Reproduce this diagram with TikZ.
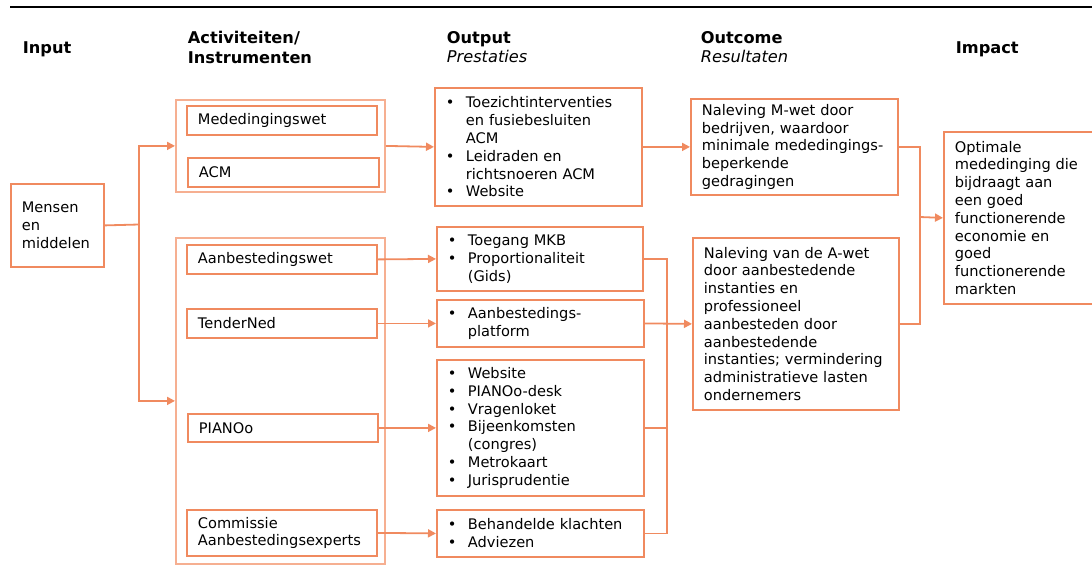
\documentclass[tikz,border=0pt]{standalone}
\usepackage{fontspec}
\setmainfont{DejaVu Sans}
\usetikzlibrary{arrows.meta}

\definecolor{oranje}{RGB}{240,138,95}
\definecolor{licht}{RGB}{246,175,145}
\newcommand{\bodyfont}{\fontsize{14.6}{17.8}\selectfont}
\newcommand{\kopfont}{\fontsize{16.2}{19}\selectfont}
\newcommand{\itemdot}{\makebox[20pt][l]{•}}
\newcommand{\itemgap}{\hspace*{20pt}}

\begin{document}
\begin{tikzpicture}[x=1pt, y=-1pt, line width=1.8pt,
	box/.style={draw=oranje, anchor=north west, align=left, inner xsep=11pt, inner ysep=0pt, font=\bodyfont},
	groep/.style={box, draw=licht},
	kop/.style={anchor=base west, inner sep=0pt, font=\kopfont\bfseries},
	subkop/.style={anchor=base west, inner sep=0pt, font=\kopfont\itshape},
	lijn/.style={draw=oranje},
	arr/.style={draw=oranje, -{Triangle[length=8pt,width=8pt]}}]
	\useasboundingbox (0,0) rectangle (1092,576);

	% headings
	\draw[line width=2.5pt] (10,7) -- (1092,7);
	\node[kop] (hin) at (22,53) {Input};
	\node[kop] (hact) at (187,43) {Activiteiten/};
	\node[kop] (hins) at (187,63) {Instrumenten};
	\node[kop] (hout) at (446,43) {Output};
	\node[subkop] (hpre) at (446,62) {Prestaties};
	\node[kop] (hoc) at (700,43) {Outcome};
	\node[subkop] (hres) at (700,62) {Resultaten};
	\node[kop] (himp) at (955,53) {Impact};

	% input and instruments
	\node[box, text width=71pt, minimum height=83pt] (mensen) at (10,183) {Mensen\\en\\middelen};
	\node[groep, text width=187pt, minimum height=92pt] (grpM) at (175,99) {};
	\node[box, text width=168pt, minimum height=29pt] (medw) at (186,105) {Mededingingswet};
	\node[box, text width=169pt, minimum height=29pt] (acm) at (187,157) {ACM};
	\node[groep, text width=187pt, minimum height=326pt] (grpA) at (175,237) {};
	\node[box, text width=168pt, minimum height=29pt] (aanw) at (186,244) {Aanbestedingswet};
	\node[box, text width=168pt, minimum height=29pt] (tned) at (186,308) {TenderNed};
	\node[box, text width=168pt, minimum height=28pt] (piano) at (187,413) {PIANOo};
	\node[box, text width=168pt, minimum height=46pt] (cae) at (186,509) {Commissie\\Aanbestedingsexperts};

	% output
	\node[box, text width=185pt, minimum height=118pt] (out1) at (434,87)
		{\itemdot Toezichtinterventies\\\itemgap en fusiebesluiten\\\itemgap ACM\\\itemdot Leidraden en\\\itemgap richtsnoeren ACM\\\itemdot Website};
	\node[box, text width=184pt, minimum height=64pt] (out2) at (436,226)
		{\itemdot Toegang MKB\\\itemdot Proportionaliteit\\\itemgap (Gids)};
	\node[box, text width=185pt, minimum height=47pt] (out3) at (436,299)
		{\itemdot Aanbestedings-\\\itemgap platform};
	\node[box, text width=185pt, minimum height=136pt] (out4) at (436,359)
		{\itemdot Website\\\itemdot PIANOo-desk\\\itemdot Vragenloket\\\itemdot Bijeenkomsten\\\itemgap (congres)\\\itemdot Metrokaart\\\itemdot Jurisprudentie};
	\node[box, text width=185pt, minimum height=47pt] (out5) at (436,509)
		{\itemdot Behandelde klachten\\\itemdot Adviezen};

	% outcome and impact
	\node[box, text width=185pt, minimum height=96pt] (res1) at (690,98)
		{Naleving M-wet door\\bedrijven, waardoor\\minimale mededingings-\\beperkende\\gedragingen};
	\node[box, text width=184pt, minimum height=172pt] (res2) at (692,237)
		{Naleving van de A-wet\\door aanbestedende\\instanties en\\professioneel\\aanbesteden door\\aanbestedende\\instanties; vermindering\\administratieve lasten\\ondernemers};
	\node[box, text width=138pt, minimum height=172pt] (imp) at (943,131)
		{Optimale\\mededinging die\\bijdraagt aan\\een goed\\functionerende\\economie en\\goed\\functionerende\\markten};

	% connectors
	\coordinate (inbus) at (139,224.5);
	\draw[lijn] (mensen.east) -- (inbus);
	\draw[arr] (inbus) |- (grpM.west);
	\draw[arr] (inbus) |- (grpA.west);
	\draw[arr] (grpM.east) -- (out1.west);
	\draw[arr] (aanw.east) -- (out2.west);
	\draw[arr] (tned.east) -- (out3.west);
	\draw[arr] (piano.east) -- (out4.west);
	\draw[arr] (cae.east) -- (out5.west);
	\draw[arr] (out1.east) -- (res1.west);
	\coordinate (outbus) at (667,323);
	\draw[lijn] (out2.east) -| (outbus);
	\draw[lijn] (out4.east) -| (outbus);
	\draw[lijn] (out5.east) -| (outbus);
	\draw[arr] (out3.east) -- (res2.west);
	\coordinate (resbus) at (920,217);
	\draw[lijn] (res1.east) -| (resbus);
	\draw[lijn] (res2.east) -| (resbus);
	\draw[arr] (resbus) -- (imp.west);

\end{tikzpicture}
\end{document}
